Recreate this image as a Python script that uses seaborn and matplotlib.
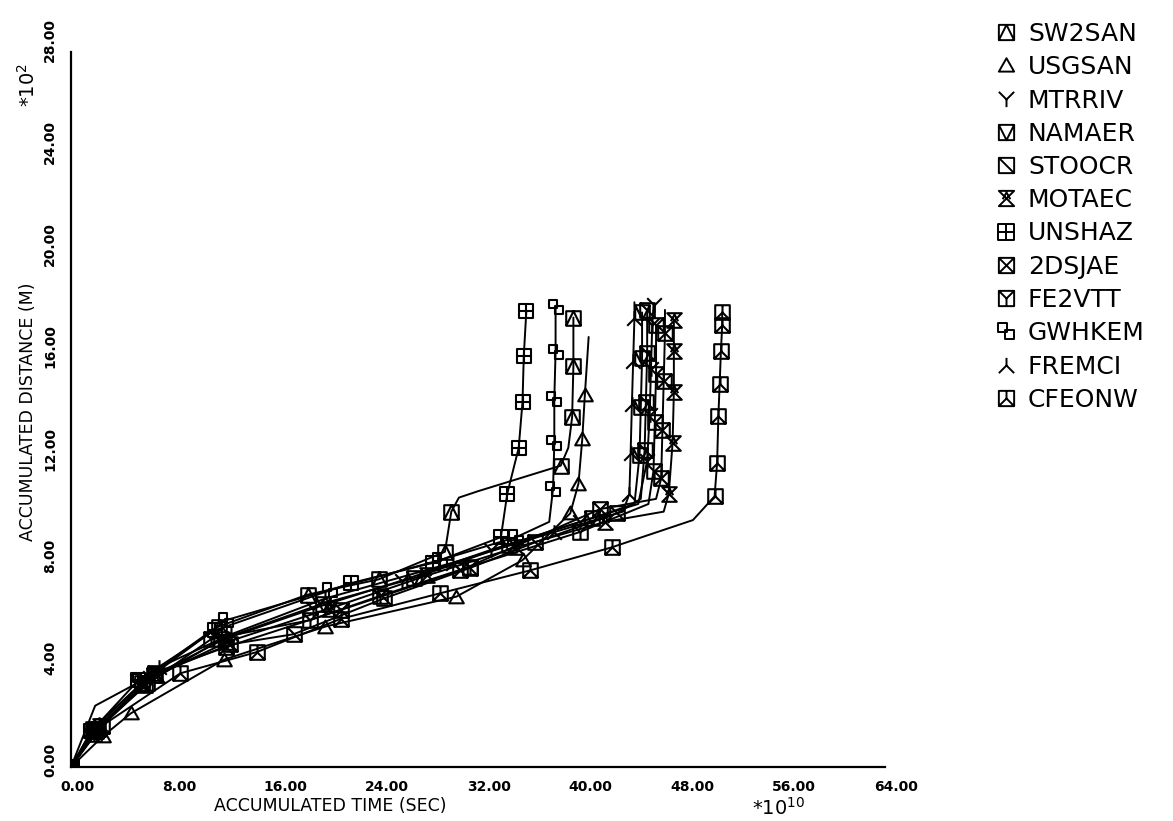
import matplotlib
matplotlib.use("Agg")
import matplotlib.pyplot as plt
import matplotlib.transforms as mtransforms
from matplotlib.path import Path
from matplotlib.lines import Line2D
import pandas as pd
import seaborn as sns

# ---- data: accumulated time (x 1e10 s) vs accumulated distance (x 1e2 m) ----
series_names = ["SW2SAN", "USGSAN", "MTRRIV", "NAMAER", "STOOCR", "MOTAEC",
                "UNSHAZ", "2DSJAE", "FE2VTT", "GWHKEM", "FREMCI", "CFEONW"]

sw2san_t = [0, 1.7, 5.6, 11.6, 18.6, 24.2, 29.4, 29.9, 30.5, 32.0, 38.5, 39.1, 39.4, 39.5, 39.5]
sw2san_d = [0, 1.5, 3.3, 5.5, 6.75, 7.35, 8.43, 10.0, 10.55, 10.8, 11.8, 12.5, 13.7, 15.7, 17.6]

usgsan_t = [0, 2.5, 4.7, 12.0, 20.0, 30.3, 35.5, 38.7, 39.25, 39.9, 40.2, 40.4, 40.7]
usgsan_d = [0, 1.2, 2.1, 4.2, 5.5, 6.67, 8.1, 9.67, 9.93, 11.1, 12.86, 14.56, 16.84]

mtrriv_t = [0, 2.0, 6.2, 12.0, 19.0, 26.0, 33.0, 40.0, 44.6, 45.3, 45.5, 45.6, 45.7, 45.8]
mtrriv_d = [0, 1.5, 3.5, 5.0, 6.2, 7.3, 8.5, 9.6, 10.3, 12.0, 13.8, 15.6, 17.3, 18.1]

namaer_t = [0, 1.9, 6.0, 11.8, 19.8, 27.0, 34.4, 41.0, 44.3, 44.7, 44.8, 44.9, 44.9]
namaer_d = [0, 1.4, 3.3, 5.0, 6.4, 7.4, 8.7, 9.75, 10.3, 12.2, 14.1, 16.0, 17.8]

stoocr_t = [0, 2.1, 6.5, 12.5, 17.5, 24.6, 31.4, 36.5, 42.9, 44.8, 45.1, 45.2, 45.3, 45.3]
stoocr_d = [0, 1.5, 3.6, 4.8, 5.2, 6.6, 7.8, 8.8, 9.93, 10.5, 12.4, 14.3, 16.2, 17.9]

motaec_t = [0, 2.3, 6.8, 12.3, 20.3, 28.0, 35.0, 42.0, 46.6, 47.0, 47.3, 47.4, 47.4, 47.4]
motaec_d = [0, 1.6, 3.6, 4.9, 6.2, 7.5, 8.6, 9.6, 10.0, 10.7, 12.7, 14.7, 16.3, 17.5]

unshaz_t = [0, 1.6, 5.3, 11.3, 22.0, 28.5, 33.8, 34.3, 35.2, 35.5, 35.6, 35.8]
unshaz_d = [0, 1.4, 3.4, 5.35, 7.2, 8.0, 9.0, 10.7, 12.5, 14.3, 16.1, 17.85]

dsjae_t = [0, 2.0, 6.6, 12.2, 21.2, 30.6, 41.6, 46.0, 46.4, 46.5, 46.6, 46.7, 46.7]
dsjae_d = [0, 1.4, 3.7, 4.7, 6.15, 7.7, 10.1, 10.5, 11.3, 13.2, 15.1, 17.0, 17.9]

fe2vtt_t = [0, 1.8, 5.8, 11.0, 18.8, 24.3, 31.4, 40.0, 45.4, 45.8, 45.9, 46.0, 46.0]
fe2vtt_d = [0, 1.3, 3.2, 5.0, 5.75, 6.7, 7.85, 9.2, 10.3, 11.6, 13.5, 15.4, 17.3]

gwhkem_t = [0, 1.9, 5.45, 12.2, 20.4, 29.0, 35.0, 37.6, 37.9, 38.0, 38.0, 38.1, 38.1]
gwhkem_d = [0, 2.4, 3.35, 5.75, 6.95, 8.1, 9.0, 9.6, 10.9, 12.67, 14.43, 16.25, 18.0]

fremci_t = [0, 2.2, 6.9, 12.6, 20.0, 30.0, 38.0, 43.4, 43.9, 44.0, 44.1, 44.2, 44.3, 44.3]
fremci_d = [0, 1.7, 3.9, 5.2, 6.6, 8.0, 9.2, 10.0, 10.7, 12.3, 14.2, 15.9, 17.6, 18.2]

cfeonw_t = [0, 2.4, 8.6, 14.6, 21.2, 29.0, 36.1, 42.5, 48.9, 50.6, 50.8, 50.9, 51.0, 51.1, 51.2, 51.2]
cfeonw_d = [0, 1.6, 3.67, 4.5, 5.8, 6.8, 7.7, 8.6, 9.67, 10.6, 11.9, 13.75, 15.0, 16.3, 17.3, 17.8]

x_ticks = [0, 8, 16, 24, 32, 40, 48, 56, 64]
y_ticks = [0, 4, 8, 12, 16, 20, 24, 28]

times = [sw2san_t, usgsan_t, mtrriv_t, namaer_t, stoocr_t, motaec_t,
         unshaz_t, dsjae_t, fe2vtt_t, gwhkem_t, fremci_t, cfeonw_t]
dists = [sw2san_d, usgsan_d, mtrriv_d, namaer_d, stoocr_d, motaec_d,
         unshaz_d, dsjae_d, fe2vtt_d, gwhkem_d, fremci_d, cfeonw_d]

# ---- plotter-style symbols ----
MV, LN, CL = Path.MOVETO, Path.LINETO, Path.CLOSEPOLY


def symbol(*strokes):
    verts, codes = [], []
    for stroke, closed in strokes:
        for i, v in enumerate(stroke):
            verts.append(v)
            codes.append(MV if i == 0 else LN)
        if closed:
            verts.append(stroke[0])
            codes.append(CL)
    return Path(verts, codes)


BOX = ([(-1, -1), (1, -1), (1, 1), (-1, 1)], True)
TRI_IN = ([(-1, -1), (0, 1), (1, -1)], False)
V_IN = ([(-1, 1), (0, -1), (1, 1)], False)
Y_ARMS = ([(-1, 1), (0, 0), (1, 1)], False)
Y_STEM = ([(0, 0), (0, -1)], False)
L_ARMS = ([(-1, -1), (0, 0), (1, -1)], False)
L_STEM = ([(0, 0), (0, 1)], False)

symbols = {
    "SW2SAN": symbol(BOX, TRI_IN),
    "USGSAN": symbol(([(-1, -0.8), (1, -0.8), (0, 0.95)], True)),
    "MTRRIV": symbol(Y_ARMS, Y_STEM),
    "NAMAER": symbol(BOX, V_IN),
    "STOOCR": symbol(BOX, ([(-1, 1), (1, -1)], False)),
    "MOTAEC": symbol(([(-1, 1), (1, 1), (-1, -1), (1, -1)], True),
                     ([(-0.5, -0.1), (0, 0.8), (0.5, -0.1)], False)),
    "UNSHAZ": symbol(BOX, ([(0, -1), (0, 1)], False), ([(-1, 0), (1, 0)], False)),
    "2DSJAE": symbol(BOX, ([(-1, -1), (1, 1)], False), ([(-1, 1), (1, -1)], False)),
    "FE2VTT": symbol(BOX, Y_ARMS, Y_STEM),
    "GWHKEM": symbol(([(-1, -0.1), (0.15, -0.1), (0.15, 1), (-1, 1)], True),
                     ([(-0.15, -1), (1, -1), (1, 0.1), (-0.15, 0.1)], True)),
    "FREMCI": symbol(L_ARMS, L_STEM),
    "CFEONW": symbol(BOX, L_ARMS, L_STEM),
}

# points along each run that carry a symbol (bends are left bare)
marked = {
    "SW2SAN": [0, 1, 2, 3, 4, 5, 6, 7, 10, 12, 13, 14],
    "USGSAN": [0, 1, 2, 3, 4, 5, 6, 8, 9, 10, 11],
    "MTRRIV": [0, 1, 2, 3, 4, 5, 6, 7, 9, 10, 11, 12, 13],
    "NAMAER": [0, 1, 2, 3, 4, 5, 6, 7, 9, 10, 11, 12],
    "STOOCR": [0, 1, 2, 3, 4, 5, 6, 7, 8, 10, 11, 12, 13],
    "MOTAEC": [0, 1, 2, 3, 4, 5, 6, 7, 9, 10, 11, 12, 13],
    "UNSHAZ": list(range(12)),
    "2DSJAE": [0, 1, 2, 3, 4, 5, 6, 8, 9, 10, 11],
    "FE2VTT": [0, 1, 2, 3, 4, 5, 6, 7, 9, 10, 11, 12],
    "GWHKEM": [0, 2, 3, 4, 5, 6, 8, 9, 10, 11, 12],
    "FREMCI": [0, 1, 2, 3, 4, 5, 6, 8, 9, 10, 11, 12],
    "CFEONW": [0, 1, 2, 3, 4, 5, 6, 7, 9, 10, 11, 12, 13, 14, 15],
}

sns.set_theme(style="white")
plt.rcParams["font.family"] = ["DejaVu Sans"]
plt.rcParams["text.color"] = "black"
plt.rcParams["xtick.color"] = "black"
plt.rcParams["ytick.color"] = "black"
plt.rcParams["xtick.labelcolor"] = "black"
plt.rcParams["ytick.labelcolor"] = "black"

fig = plt.figure(figsize=(11.73, 8.21), dpi=100)
ax = fig.add_axes([71 / 1173, 1 - 767 / 821, (885 - 71) / 1173, (767 - 52) / 821])

for name, t, d in zip(series_names, times, dists):
    run = pd.DataFrame({"time": t, "dist": d})
    sns.lineplot(data=run, x="time", y="dist", sort=False, estimator=None,
                 color="black", lw=1.4, marker=symbols[name], markevery=marked[name],
                 ms=10.5, mew=1.5, mfc="none", mec="black", ax=ax, legend=False)

ax.set_xlim(0, 64)
ax.set_ylim(0, 28)
ax.set_xlabel("")
ax.set_ylabel("")
for side in ("top", "right"):
    ax.spines[side].set_visible(False)
for side in ("left", "bottom"):
    ax.spines[side].set_linewidth(1.6)
    ax.spines[side].set_color("black")

ax.set_xticks(x_ticks)
ax.set_xticklabels([f"{v:.2f}" for v in x_ticks])
ax.set_xticks(list(range(4, 64, 8)), minor=True)
ax.set_yticks(y_ticks)
ax.set_yticklabels([f"{v:.2f}" for v in y_ticks])
ax.set_yticks(list(range(2, 28, 4)), minor=True)
ax.tick_params(which="both", direction="out", length=7, width=1.4, color="black")
ax.tick_params(axis="x", which="major", pad=2, labelsize=10, labelcolor="black")
ax.tick_params(axis="y", which="major", pad=3, labelsize=10, labelrotation=90,
               labelcolor="black")

fig.canvas.draw()
shift_x = mtransforms.ScaledTranslation(-11 / 100, 0, fig.dpi_scale_trans)
for lab in ax.get_xticklabels():
    lab.set_horizontalalignment("left")
    lab.set_fontweight("bold")
    lab.set_transform(lab.get_transform() + shift_x)
shift_y = mtransforms.ScaledTranslation(0, -10 / 100, fig.dpi_scale_trans)
for lab in ax.get_yticklabels():
    lab.set_verticalalignment("bottom")
    lab.set_fontweight("bold")
    lab.set_transform(lab.get_transform() + shift_y)

fig.text(330 / 1173, 1 - 806 / 821, "ACCUMULATED TIME (SEC)", ha="center", va="center",
         fontsize=12.5, color="black")
fig.text(752 / 1173, 1 - 808 / 821, "*10$^{10}$", ha="left", va="center", fontsize=14,
         color="black")
fig.text(28 / 1173, 1 - 412 / 821, "ACCUMULATED DISTANCE (M)", ha="center", va="center",
         rotation=90, fontsize=12.5, color="black")
fig.text(28 / 1173, 1 - 85 / 821, "*10$^{2}$", ha="center", va="center",
         rotation=90, fontsize=14, color="black")

handles = [Line2D([], [], linestyle="none", marker=symbols[n], ms=11, mew=1.4,
                  mfc="none", mec="black") for n in series_names]
fig.legend(handles, series_names, loc="upper left", bbox_to_anchor=(993 / 1173, 1 - 22 / 821),
           frameon=False, fontsize=18, handlelength=1.0, handletextpad=0.4,
           labelspacing=0.37, borderpad=0, borderaxespad=0, labelcolor="black")

fig.savefig("out.png", dpi=100, facecolor="white")
